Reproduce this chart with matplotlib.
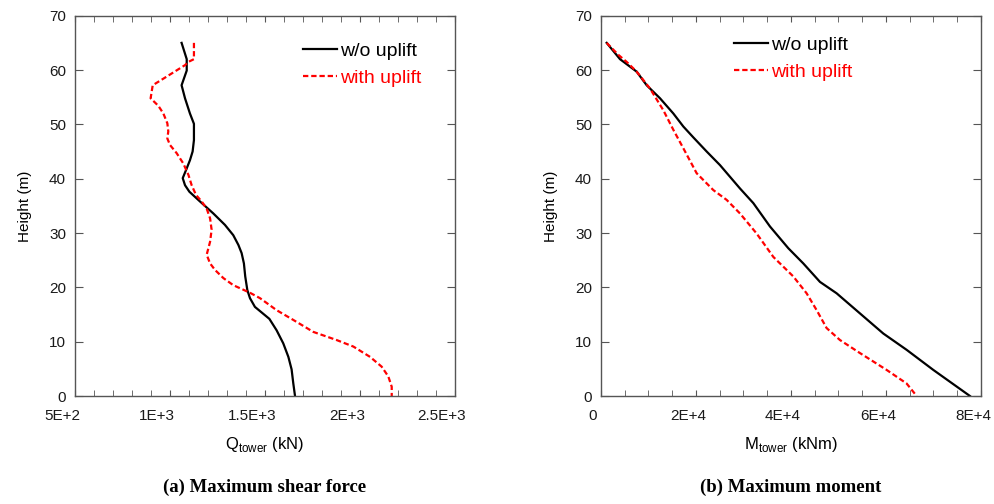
import matplotlib
matplotlib.use("Agg")
import matplotlib.pyplot as plt
import matplotlib.transforms as mtransforms
from matplotlib.ticker import MultipleLocator, FixedLocator, FixedFormatter

plt.rcParams['font.family'] = ['Liberation Sans', 'DejaVu Sans']
plt.rcParams['mathtext.fontset'] = 'custom'
plt.rcParams['mathtext.rm'] = 'Liberation Sans'

# shear force (kN) vs height (m)
h_shear_wo = [65, 62.0, 59.9, 58.5, 57.2, 54.8, 52.0, 50.1, 47.1, 45.0, 43.4, 41.9, 40.1,
              38.8, 37.6, 35.8, 33.6, 31.5, 29.6, 27.8, 26.3, 24.4, 22.0, 19.5, 18.0,
              16.4, 14.2, 12.1, 9.7, 7.2, 4.9, 2.3, 0]
q_wo = [1061, 1088, 1088, 1074, 1061, 1079, 1105, 1126, 1126, 1119, 1105, 1088, 1067,
        1079, 1102, 1158, 1228, 1289, 1333, 1360, 1377, 1389, 1396, 1407, 1421,
        1447, 1523, 1561, 1596, 1623, 1640, 1649, 1658]

h_shear_up = [65, 62.0, 61.5, 60.9, 58.8, 57.2, 54.8, 53.4, 52.0, 50.2, 48.7, 47.4, 46.2,
              44.7, 42.8, 40.7, 38.8, 37.0, 35.8, 34.5, 32.7, 30.6, 28.4, 26.0, 24.4,
              23.2, 21.7, 20.4, 19.0, 18.0, 15.8, 14.0, 11.8, 10.3, 9.1, 7.2, 5.4,
              3.6, 1.7, 0]
q_up = [1126, 1126, 1097, 1079, 983, 909, 898, 939, 965, 986, 991, 986, 1000,
        1035, 1070, 1097, 1114, 1137, 1167, 1193, 1211, 1219, 1211, 1193, 1211,
        1237, 1281, 1333, 1421, 1474, 1561, 1649, 1754, 1877, 1965, 2053, 2114,
        2149, 2167, 2167]

# moment (kNm) vs height (m)
h_mom_wo = [65, 62.0, 59.7, 57.2, 54.8, 52.0, 49.6, 47.6, 45.0, 42.5, 38.2, 35.5, 31.2,
            27.2, 24.4, 21.0, 18.9, 15.2, 11.5, 8.5, 4.8, 0]
m_wo = [1193, 4000, 7509, 9614, 12421, 15228, 17333, 19439, 22246, 25050, 29260, 32070,
        35575, 39433, 42590, 46100, 49610, 54520, 59430, 64340, 69960, 77670]

h_mom_up = [65, 62.8, 61.5, 59.7, 56.6, 52.6, 49.0, 45.6, 41.0, 37.9, 36.1, 33.6, 29.9,
            25.6, 22.0, 18.9, 15.8, 12.5, 10.3, 7.9, 4.8, 2.3, 0]
m_up = [1193, 3648, 5403, 7509, 10315, 13122, 15228, 17333, 20140, 23650, 26450, 29260,
        32770, 36280, 40490, 43290, 45400, 47500, 50310, 54520, 60130, 64340, 66450]

q_ticks = [500, 1000, 1500, 2000, 2500]
q_labels = ['5E+2', '1E+3', '1.5E+3', '2E+3', '2.5E+3']
m_ticks = [0, 20000, 40000, 60000, 80000]
m_labels = ['0', '2E+4', '4E+4', '6E+4', '8E+4']

spine_col = '#555555'

fig = plt.figure(figsize=(9.95, 5.04), dpi=100)
ax1 = fig.add_axes([75/995, 108/504, 380/995, 380.3/504])
ax2 = fig.add_axes([601/995, 108/504, 380/995, 380.3/504])


def style(ax, ticks, labels, minor, xlabel, shift_px):
    ax.set_ylim(0, 70)
    ax.yaxis.set_major_locator(MultipleLocator(10))
    ax.xaxis.set_major_locator(FixedLocator(ticks))
    ax.xaxis.set_major_formatter(FixedFormatter(labels))
    ax.xaxis.set_minor_locator(MultipleLocator(minor))
    ax.tick_params(axis='both', which='both', direction='in', top=True, right=True,
                   color=spine_col, labelsize=11, labelcolor='#1a1a1a')
    ax.tick_params(axis='x', which='both', length=4.5, pad=9)
    ax.tick_params(axis='y', which='major', length=5.5, pad=6.5)
    for s in ax.spines.values():
        s.set_color(spine_col)
        s.set_linewidth(1.0)
    ax.set_ylabel('Height (m)', fontsize=11, labelpad=12)
    ax.set_xlabel(xlabel, fontsize=12, labelpad=9)
    # tick labels sit a little left of their ticks in the original
    shift = mtransforms.ScaledTranslation(-shift_px/100, 0, fig.dpi_scale_trans)
    for lab in ax.get_xticklabels():
        lab.set_transform(lab.get_transform() + shift)


ax1.plot(q_wo, h_shear_wo, color='black', lw=1.6, label='w/o uplift')
ax1.plot(q_up, h_shear_up, color='red', lw=1.6, dashes=(2.4, 1.3), label='with uplift')
ax1.set_xlim(500, 2500)
style(ax1, q_ticks, q_labels, 100, r'Q$_{\mathrm{tower}}$ (kN)', 13)

ax2.plot(m_wo, h_mom_wo, color='black', lw=1.6, label='w/o uplift')
ax2.plot(m_up, h_mom_up, color='red', lw=1.6, dashes=(2.4, 1.3), label='with uplift')
ax2.set_xlim(0, 80000)
style(ax2, m_ticks, m_labels, 5000, r'M$_{\mathrm{tower}}$ (kNm)', 8)

for ax, anchor in ((ax1, (0.6, 0.93)), (ax2, (0.35, 0.946))):
    ax.legend(loc='upper left', bbox_to_anchor=anchor, frameon=False, fontsize=14,
              handlelength=1.75, handletextpad=0.15, labelspacing=0.5,
              borderpad=0, borderaxespad=0, labelcolor='linecolor')

fig.text(265/995, 0.034, '(a) Maximum shear force', ha='center', va='center',
         family='Liberation Serif', fontweight='bold', fontsize=13.5)
fig.text(791/995, 0.034, '(b) Maximum moment', ha='center', va='center',
         family='Liberation Serif', fontweight='bold', fontsize=13.5)

fig.savefig('out.png', dpi=100)
